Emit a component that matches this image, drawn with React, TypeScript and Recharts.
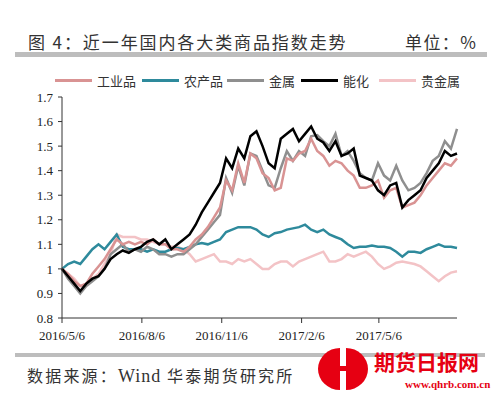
import { LineChart, Line, XAxis, YAxis } from "recharts";

// ── Data (weekly samples, day 0 = 2016/5/6) ──────────────────────────────────

const days = [
  0, 7, 14, 21, 28, 35, 42, 49, 56, 63, 70, 77, 84, 91, 98, 105, 112, 119, 126, 133,
  140, 147, 154, 161, 168, 175, 182, 189, 196, 203, 210, 217, 224, 231, 238, 245, 252, 259, 266, 273,
  280, 287, 294, 301, 308, 315, 322, 329, 336, 343, 350, 357, 364, 371, 378, 385, 392, 399, 406, 413,
  420, 427, 434, 441, 448, 455,
];

const industrial = [
  1.0, 0.98, 0.95, 0.93, 0.94, 0.98, 1.01, 1.04, 1.08, 1.12, 1.1, 1.11, 1.1, 1.11, 1.1, 1.12, 1.1, 1.1, 1.08, 1.08,
  1.07, 1.09, 1.12, 1.14, 1.17, 1.21, 1.25, 1.36, 1.32, 1.43, 1.35, 1.47, 1.45, 1.39, 1.37, 1.32, 1.33, 1.45, 1.44, 1.47,
  1.48, 1.53, 1.48, 1.46, 1.42, 1.44, 1.43, 1.4, 1.38, 1.33, 1.33, 1.34, 1.36, 1.29, 1.32, 1.33, 1.25, 1.26, 1.27, 1.3,
  1.34, 1.37, 1.4, 1.43, 1.42, 1.45,
];

const agri = [
  1.0, 1.02, 1.03, 1.02, 1.05, 1.08, 1.1, 1.08, 1.11, 1.14, 1.09, 1.08, 1.08, 1.08, 1.07, 1.08, 1.07, 1.07, 1.08, 1.085,
  1.08, 1.09, 1.1, 1.105, 1.1, 1.11, 1.12, 1.15, 1.16, 1.17, 1.17, 1.17, 1.16, 1.14, 1.13, 1.145, 1.15, 1.16, 1.165, 1.17,
  1.18, 1.16, 1.15, 1.16, 1.14, 1.13, 1.12, 1.1, 1.085, 1.09, 1.09, 1.095, 1.09, 1.09, 1.085, 1.07, 1.05, 1.07, 1.07, 1.065,
  1.08, 1.09, 1.1, 1.09, 1.09, 1.085,
];

const metals = [
  1.0, 0.96, 0.93, 0.9, 0.93, 0.95, 0.97, 1.0, 1.06, 1.08, 1.1, 1.07, 1.08, 1.07, 1.09, 1.08, 1.06, 1.06, 1.05, 1.06,
  1.06, 1.08, 1.1, 1.13, 1.16, 1.19, 1.22, 1.37, 1.31, 1.42, 1.34, 1.47, 1.46, 1.4, 1.34, 1.33, 1.41, 1.48, 1.44, 1.48,
  1.46, 1.54, 1.545, 1.52, 1.5, 1.55, 1.46, 1.48, 1.44, 1.39, 1.37, 1.36, 1.43, 1.38, 1.36, 1.42, 1.36, 1.32, 1.33, 1.35,
  1.39, 1.44, 1.46, 1.52, 1.49, 1.57,
];

const energyChem = [
  1.0, 0.97, 0.94, 0.91, 0.94, 0.96, 0.97, 1.0, 1.04, 1.06, 1.075, 1.065, 1.08, 1.09, 1.11, 1.12, 1.1, 1.12, 1.08, 1.1,
  1.12, 1.14, 1.18, 1.23, 1.27, 1.31, 1.35, 1.45, 1.41, 1.49, 1.45, 1.54, 1.56, 1.5, 1.43, 1.41, 1.53, 1.55, 1.57, 1.52,
  1.55, 1.58, 1.53, 1.515, 1.48, 1.52, 1.46, 1.47, 1.49, 1.38, 1.37, 1.36, 1.32, 1.3, 1.34, 1.35, 1.25, 1.28, 1.3, 1.32,
  1.37, 1.4, 1.43, 1.48, 1.46, 1.47,
];

const precious = [
  1.0, 0.98, 0.96, 0.93, 0.94, 0.96, 0.98, 1.02, 1.06, 1.14, 1.13, 1.13, 1.13, 1.12, 1.12, 1.11, 1.1, 1.1, 1.09, 1.09,
  1.08, 1.06, 1.03, 1.04, 1.05, 1.06, 1.03, 1.03, 1.02, 1.04, 1.03, 1.04, 1.02, 1.0, 1.0, 1.02, 1.03, 1.03, 1.01, 1.03,
  1.04, 1.05, 1.06, 1.07, 1.03, 1.03, 1.04, 1.06, 1.05, 1.06, 1.07, 1.05, 1.02, 1.0, 1.01, 1.025, 1.03, 1.025, 1.02, 1.01,
  0.99, 0.97, 0.95, 0.97, 0.985, 0.99,
];

const xTickDays = [0, 92, 184, 276, 365];
const xTickLabels = ["2016/5/6", "2016/8/6", "2016/11/6", "2017/2/6", "2017/5/6"];
const yTicks = [0.8, 0.9, 1.0, 1.1, 1.2, 1.3, 1.4, 1.5, 1.6, 1.7];

const SERIES = [
  { key: "industrial", name: "工业品", color: "#d99393" },
  { key: "agri", name: "农产品", color: "#2e8a9c" },
  { key: "metals", name: "金属", color: "#8f8f8f" },
  { key: "energyChem", name: "能化", color: "#000000" },
  { key: "precious", name: "贵金属", color: "#f3c3c6" },
];

// draw order: pale lines underneath, black on top
const DRAW_ORDER = ["precious", "agri", "metals", "industrial", "energyChem"];

const rows = days.map((d, i) => ({
  day: d,
  industrial: industrial[i],
  agri: agri[i],
  metals: metals[i],
  energyChem: energyChem[i],
  precious: precious[i],
}));

const SERIF = "'Liberation Serif', 'Times New Roman', serif";
const CJK = "'Noto Sans CJK SC', sans-serif";

function fmtY(v: number): string {
  return String(Number(v.toFixed(1)));
}

function fmtX(v: number): string {
  const i = xTickDays.indexOf(v);
  return i >= 0 ? xTickLabels[i] : "";
}

export default function App() {
  return (
    <div style={{ position: "absolute", left: 0, top: 0, width: 500, height: 398, background: "#fff", overflow: "hidden" }}>
      {/* ── Title ─────────────────────────────────────────────────────────── */}
      <div style={{ position: "absolute", left: 28, top: 29, fontFamily: CJK, fontSize: 17, letterSpacing: 1.9, color: "#333", whiteSpace: "nowrap" }}>
        图 4：近一年国内各大类商品指数走势
      </div>
      <div style={{ position: "absolute", left: 405, top: 29, fontFamily: CJK, fontSize: 17, letterSpacing: 1.4, color: "#333", whiteSpace: "nowrap" }}>
        单位：%
      </div>
      <div style={{ position: "absolute", left: 15, top: 52, width: 472, height: 5, background: "#bdbdbd" }} />

      {/* ── Legend ────────────────────────────────────────────────────────── */}
      <div style={{ position: "absolute", left: 55, top: 71, display: "flex", alignItems: "center", fontFamily: CJK, fontSize: 13, color: "#333" }}>
        {SERIES.map((s, i) => (
          <span key={s.key} style={{ display: "flex", alignItems: "center", marginRight: i === 4 ? 0 : [6, 4, 6, 10][i] }}>
            <span style={{ display: "inline-block", width: 37, height: 3, background: s.color, marginRight: 5 }} />
            {s.name}
          </span>
        ))}
      </div>

      {/* ── Chart ─────────────────────────────────────────────────────────── */}
      <div style={{ position: "absolute", left: 0, top: 0 }}>
        <LineChart width={500} height={398} data={rows} margin={{ top: 97, right: 43, bottom: 50, left: 22 }}>
          <XAxis
            type="number"
            dataKey="day"
            domain={[0, 455]}
            ticks={xTickDays}
            tickFormatter={fmtX}
            height={30}
            tickSize={5}
            tickMargin={8}
            axisLine={{ stroke: "#333", strokeWidth: 1 }}
            tickLine={{ stroke: "#333" }}
            tick={{ fill: "#222", fontSize: 13, fontFamily: SERIF }}
            interval={0}
          />
          <YAxis
            type="number"
            domain={[0.8, 1.7]}
            ticks={yTicks}
            tickFormatter={fmtY}
            width={40}
            tickSize={4}
            tickMargin={5}
            axisLine={{ stroke: "#333", strokeWidth: 1 }}
            tickLine={{ stroke: "#333" }}
            tick={{ fill: "#222", fontSize: 13, fontFamily: SERIF }}
            interval={0}
          />
          {DRAW_ORDER.map((k) => {
            const s = SERIES.find((x) => x.key === k)!;
            return (
              <Line
                key={k}
                type="linear"
                dataKey={k}
                name={s.name}
                stroke={s.color}
                strokeWidth={2.5}
                dot={false}
                isAnimationActive={false}
              />
            );
          })}
        </LineChart>
      </div>

      {/* ── Footer ────────────────────────────────────────────────────────── */}
      <div style={{ position: "absolute", left: 15, top: 353, width: 470, height: 4, background: "#bdbdbd" }} />
      <div style={{ position: "absolute", left: 27, top: 363, fontFamily: CJK, fontSize: 16, letterSpacing: 2.2, color: "#333", whiteSpace: "nowrap" }}>
        数据来源：<span style={{ fontFamily: SERIF, fontSize: 18, letterSpacing: 1 }}>Wind</span> 华泰期货研究所
      </div>
      <svg style={{ position: "absolute", left: 316, top: 346 }} width={54} height={46}>
        <path d="M24 2 A22 21 0 0 0 24 44 Z" fill="#e60012" />
        <path d="M30 2 A22 21 0 0 1 30 44 Z" fill="#e60012" />
        <rect x={24} y={0} width={6} height={46} fill="#fff" />
        <rect x={14} y={20} width={26} height={5} fill="#e60012" />
      </svg>
      <div style={{ position: "absolute", left: 374, top: 350, fontFamily: CJK, fontSize: 21, lineHeight: "22px", fontWeight: 700, color: "#e60012", whiteSpace: "nowrap" }}>
        期货日报网
      </div>
      <div style={{ position: "absolute", left: 405, top: 378, fontFamily: SERIF, fontSize: 11, lineHeight: "12px", fontWeight: 700, color: "#e60012", whiteSpace: "nowrap" }}>
        www.qhrb.com.cn
      </div>
    </div>
  );
}
